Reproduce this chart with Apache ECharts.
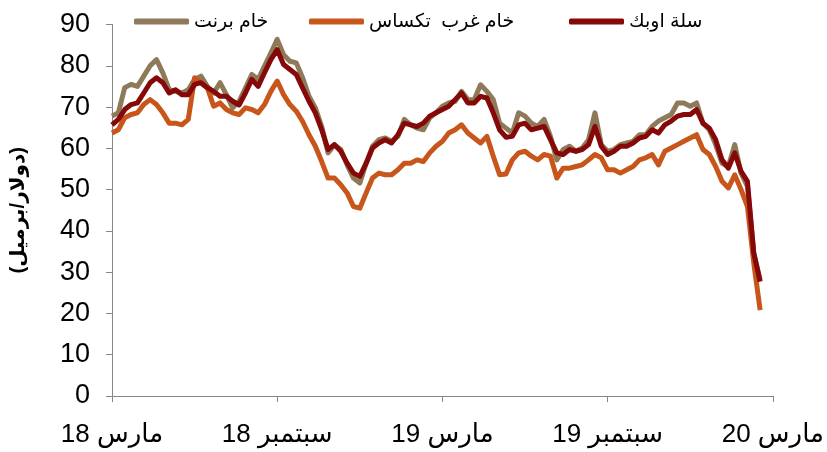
<!DOCTYPE html>
<html>
<head>
<meta charset="utf-8">
<script src="https://cdn.jsdelivr.net/npm/echarts@6/dist/echarts.min.js"></script>
<style>
    html, body { margin: 0; padding: 0; background: #fff; }
    #chart { width: 827px; height: 452px; }
</style>
</head>
<body>
<div id="chart" dir="rtl"></div>
<script>
    // أسعار أسبوعية تقريبية من مارس 2018 إلى مارس 2020
    const brent = [67.8, 68.6, 74.7, 75.5, 75, 77.5, 80, 81.5, 78.3, 74.2,
        73.8, 73.4, 74.2, 76.7, 77.5, 75, 73.4, 75.9, 73, 69.8,
        71.4, 74.6, 77.9, 76.7, 79.9, 83.1, 86.4, 82.7, 81.1, 80.7,
        77.1, 72.6, 69.8, 65.3, 58.9, 60.9, 59.7, 56, 52.8, 51.6,
        56.4, 60.5, 62.1, 62.5, 61.7, 62.9, 67, 65.7, 64.9, 64.5,
        67.4, 68.6, 70.2, 71, 71.4, 73.8, 71.8, 71.8, 75.4, 73.8,
        71.8, 66.1, 64.9, 63.7, 68.6, 67.8, 66.1, 65.3, 67, 62.9,
        57.2, 59.7, 60.5, 59.3, 60.1, 62.1, 68.6, 60.9, 59.3, 59.7,
        60.9, 61.3, 61.7, 63.3, 63.3, 65.3, 66.6, 67.4, 68.2, 71,
        71, 70.2, 71, 66.1, 64.5, 60.9, 56.4, 55.6, 60.9, 54,
        50.8, 34.6, 28.1];
    const wti = [63.7, 64.5, 67.4, 68.2, 68.6, 70.6, 71.8, 70.6, 68.6, 66.1,
        66.1, 65.7, 67, 77.1, 75.9, 74.7, 70.2, 71, 69.4, 68.6,
        68.2, 69.8, 69.4, 68.6, 70.6, 73.8, 76.3, 73, 70.6, 69,
        66.5, 63.3, 60.5, 56.8, 52.8, 52.8, 51.2, 49.2, 45.9, 45.5,
        49.2, 52.8, 54, 53.6, 53.6, 54.8, 56.4, 56.4, 57.2, 56.8,
        58.9, 60.5, 61.7, 63.7, 64.5, 65.7, 63.7, 62.5, 61.3, 62.9,
        58.1, 53.6, 53.8, 57.2, 58.9, 59.3, 58.1, 57.2, 58.5, 58.1,
        52.8, 55.2, 55.2, 55.6, 56, 57.2, 58.5, 57.7, 54.8, 54.8,
        54, 54.8, 55.6, 57.2, 57.7, 58.5, 56, 59.3, 60.1, 60.9,
        61.7, 62.5, 63.3, 59.7, 58.5, 55.6, 52, 50.4, 53.6, 50,
        45.9, 32.2, 20.8];
    const opec = [65.7, 67, 69.4, 70.6, 71, 73.4, 75.9, 77.1, 75.9, 73.4,
        74.2, 73, 73, 75.5, 75.9, 74.7, 73.8, 72.6, 72.6, 71.4,
        70.5, 73.4, 76.7, 75, 78.3, 81.5, 83.9, 80.3, 79.1, 77.9,
        74.6, 71.4, 68.6, 64.5, 59.7, 60.9, 59.3, 56.4, 54, 53.2,
        56.4, 60.1, 61.3, 62.1, 61.3, 63.3, 66.1, 65.7, 65.3, 66.1,
        67.8, 68.6, 69.4, 70.2, 71.8, 73.4, 71, 71, 72.6, 72.2,
        68.6, 64.5, 62.7, 62.9, 65.7, 66.1, 64.5, 64.9, 65.3, 62.1,
        58.9, 58.5, 59.7, 59.3, 59.7, 60.9, 65.3, 60.5, 58.5, 59.3,
        60.5, 60.5, 61.3, 62.5, 62.9, 64.5, 63.7, 65.7, 66.6, 67.8,
        68.2, 68.2, 69.4, 66.1, 64.9, 62.1, 57.2, 55.2, 58.9, 54.4,
        52, 34.6, 27.7];
    const seriesNames = ['خام برنت', 'خام غرب  تكساس', 'سلة اوبك'];
    const tickLabels = ['مارس 18', 'سبتمبر 18', 'مارس 19', 'سبتمبر 19', 'مارس 20'];
    const weeksPerLabel = 26;
    const weeks = [];
    for (let i = 0; i <= weeksPerLabel * (tickLabels.length - 1); i++) {
        weeks.push(i % weeksPerLabel === 0 ? tickLabels[i / weeksPerLabel] : '');
    }

    const font = '"Liberation Sans", "DejaVu Sans", sans-serif';
    const axisColor = '#868686';
    const colors = ['#8E7A58', '#C8561B', '#860808'];

    // كل عنصر من المفتاح في مكانه
    function legendAt(name, left) {
        return {
            left: left,
            top: 7,
            itemWidth: 55,
            itemHeight: 6,
            icon: 'roundRect',
            textStyle: { fontSize: 19, color: '#000', fontFamily: font },
            data: [name]
        };
    }

    let myChart = echarts.init(document.getElementById('chart'));
    myChart.setOption({
        animation: false,
        textStyle: { fontFamily: font },
        legend: [
            legendAt(seriesNames[0], 129),
            legendAt(seriesNames[1], 304),
            legendAt(seriesNames[2], 564)
        ],
        grid: { left: 107, right: 49, top: 24.5, bottom: 56 },
        xAxis: {
            type: 'category',
            boundaryGap: false,
            data: weeks,
            axisLine: { lineStyle: { color: axisColor, width: 1 } },
            axisTick: {
                length: 6,
                lineStyle: { color: axisColor },
                interval: function (i) { return i % weeksPerLabel === 0; }
            },
            axisLabel: {
                interval: function (i) { return i % weeksPerLabel === 0; },
                fontSize: 26,
                color: '#000',
                margin: 26,
                fontFamily: font
            }
        },
        yAxis: {
            type: 'value',
            min: 0,
            max: 90,
            interval: 10,
            name: '(دولار/برميل)',
            nameLocation: 'middle',
            nameRotate: 90,
            nameGap: 84,
            nameTextStyle: { fontSize: 20, fontWeight: 'bold', color: '#000', fontFamily: font },
            splitLine: { show: false },
            axisLine: { show: true, lineStyle: { color: axisColor, width: 1 } },
            axisTick: { show: true, length: 6, lineStyle: { color: axisColor } },
            axisLabel: { fontSize: 27, color: '#000', margin: 22, fontFamily: font }
        },
        series: [brent, wti, opec].map(function (values, i) {
            return {
                name: seriesNames[i],
                type: 'line',
                data: values,
                showSymbol: false,
                symbol: 'none',
                lineStyle: { width: 5, color: colors[i], join: 'round' },
                itemStyle: { color: colors[i] }
            };
        })
    });
</script>
</body>
</html>
